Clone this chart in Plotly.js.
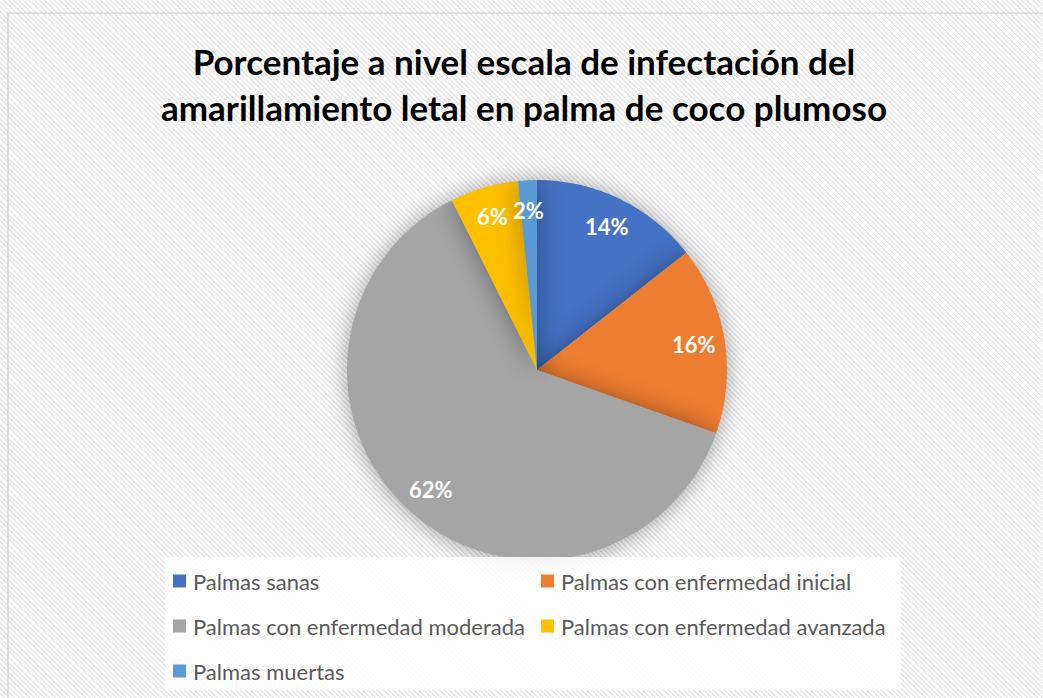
<!DOCTYPE html>
<html>
<head>
<meta charset="utf-8">
<script src="https://cdn.plot.ly/plotly-3.0.1.min.js"></script>
<style>
html,body{margin:0;padding:0;background:#fff;}
#chart{width:1043px;height:698px;
  background:repeating-linear-gradient(45deg,#ffffff 0px,#ffffff 2.2px,#e9e9e9 2.2px,#e9e9e9 3.6px);}
.pielayer .slice path{filter:drop-shadow(0px 1px 12px rgba(0,0,0,0.38));}
</style>
</head>
<body>
<div id="chart"></div>
<script>
const categories = ["Palmas sanas","Palmas con enfermedad inicial","Palmas con enfermedad moderada","Palmas con enfermedad avanzada","Palmas muertas"];
const values = [14.4, 16.0, 62.2, 5.8, 1.6];
const colors = ["#4472C4","#ED7D31","#A5A5A5","#FFC000","#5B9BD5"];
const titleText = "Porcentaje a nivel escala de infectación del<br>amarillamiento letal en palma de coco plumoso";

const W = 1043, H = 698;
const cx = 537, cy = 370, R = 190;
const px2x = p => p / W;
const px2y = p => 1 - p / H;

// percentage labels placed at the slice mid-angle (0.84 R), computed from the data
const total = values.reduce((a,b)=>a+b,0);
let cum = 0;
const annotations = values.map((v,i)=>{
  const mid = (cum + v/2)/total * 2*Math.PI; cum += v;
  return {x:px2x(cx + 0.84*R*Math.sin(mid)), y:px2y(cy - 0.84*R*Math.cos(mid)),
    xref:'paper', yref:'paper', xanchor:'center', yanchor:'middle', showarrow:false,
    text: Math.round(v/total*100)+'%',
    font:{family:'Lato, sans-serif', size:22, color:'#ffffff', weight:'bold'}};
});

// legend (two columns) built from categories/colors
const legCols = [173, 541], legRows = [581, 626, 671], sq = 13, txtGap = 18;
const shapes = [
  {type:'rect', xref:'paper', yref:'paper', x0:px2x(165), x1:px2x(901), y0:px2y(690), y1:px2y(557),
   fillcolor:'rgba(255,255,255,0.85)', line:{width:0}, layer:'above'},
  {type:'rect', xref:'paper', yref:'paper', x0:px2x(8), x1:1.01, y0:-0.01, y1:px2y(13),
   line:{color:'#d9d9d9', width:1.5}, layer:'above'}
];
categories.forEach((c,i)=>{
  const col = legCols[i%2], row = legRows[Math.floor(i/2)];
  shapes.push({type:'rect', xref:'paper', yref:'paper', x0:px2x(col), x1:px2x(col+sq),
    y0:px2y(row+sq/2), y1:px2y(row-sq/2), fillcolor:colors[i], line:{width:0}, layer:'above'});
  annotations.push({x:px2x(col+txtGap), y:px2y(row), xref:'paper', yref:'paper',
    xanchor:'left', yanchor:'middle', showarrow:false, text:c,
    font:{family:'Lato, sans-serif', size:22, color:'#595959'}});
});

const trace = {
  type:'pie', labels:categories, values:values, sort:false, direction:'clockwise',
  rotation:0, marker:{colors:colors, line:{width:0}}, textinfo:'none', hoverinfo:'label+percent',
  domain:{x:[px2x(cx-R), px2x(cx+R)], y:[px2y(cy+R), px2y(cy-R)]}
};

const layout = {
  width:W, height:H, margin:{l:0,r:0,t:0,b:0},
  paper_bgcolor:'rgba(0,0,0,0)', plot_bgcolor:'rgba(0,0,0,0)',
  title:{text:titleText, x:px2x(524), xanchor:'center', y:px2y(75), yanchor:'middle',
    font:{family:'Lato, sans-serif', size:35, color:'#000000', weight:'bold'}},
  showlegend:false,
  shapes:shapes,
  annotations:annotations
};

Plotly.newPlot('chart',[trace],layout,{displayModeBar:false});
</script>
</body>
</html>
